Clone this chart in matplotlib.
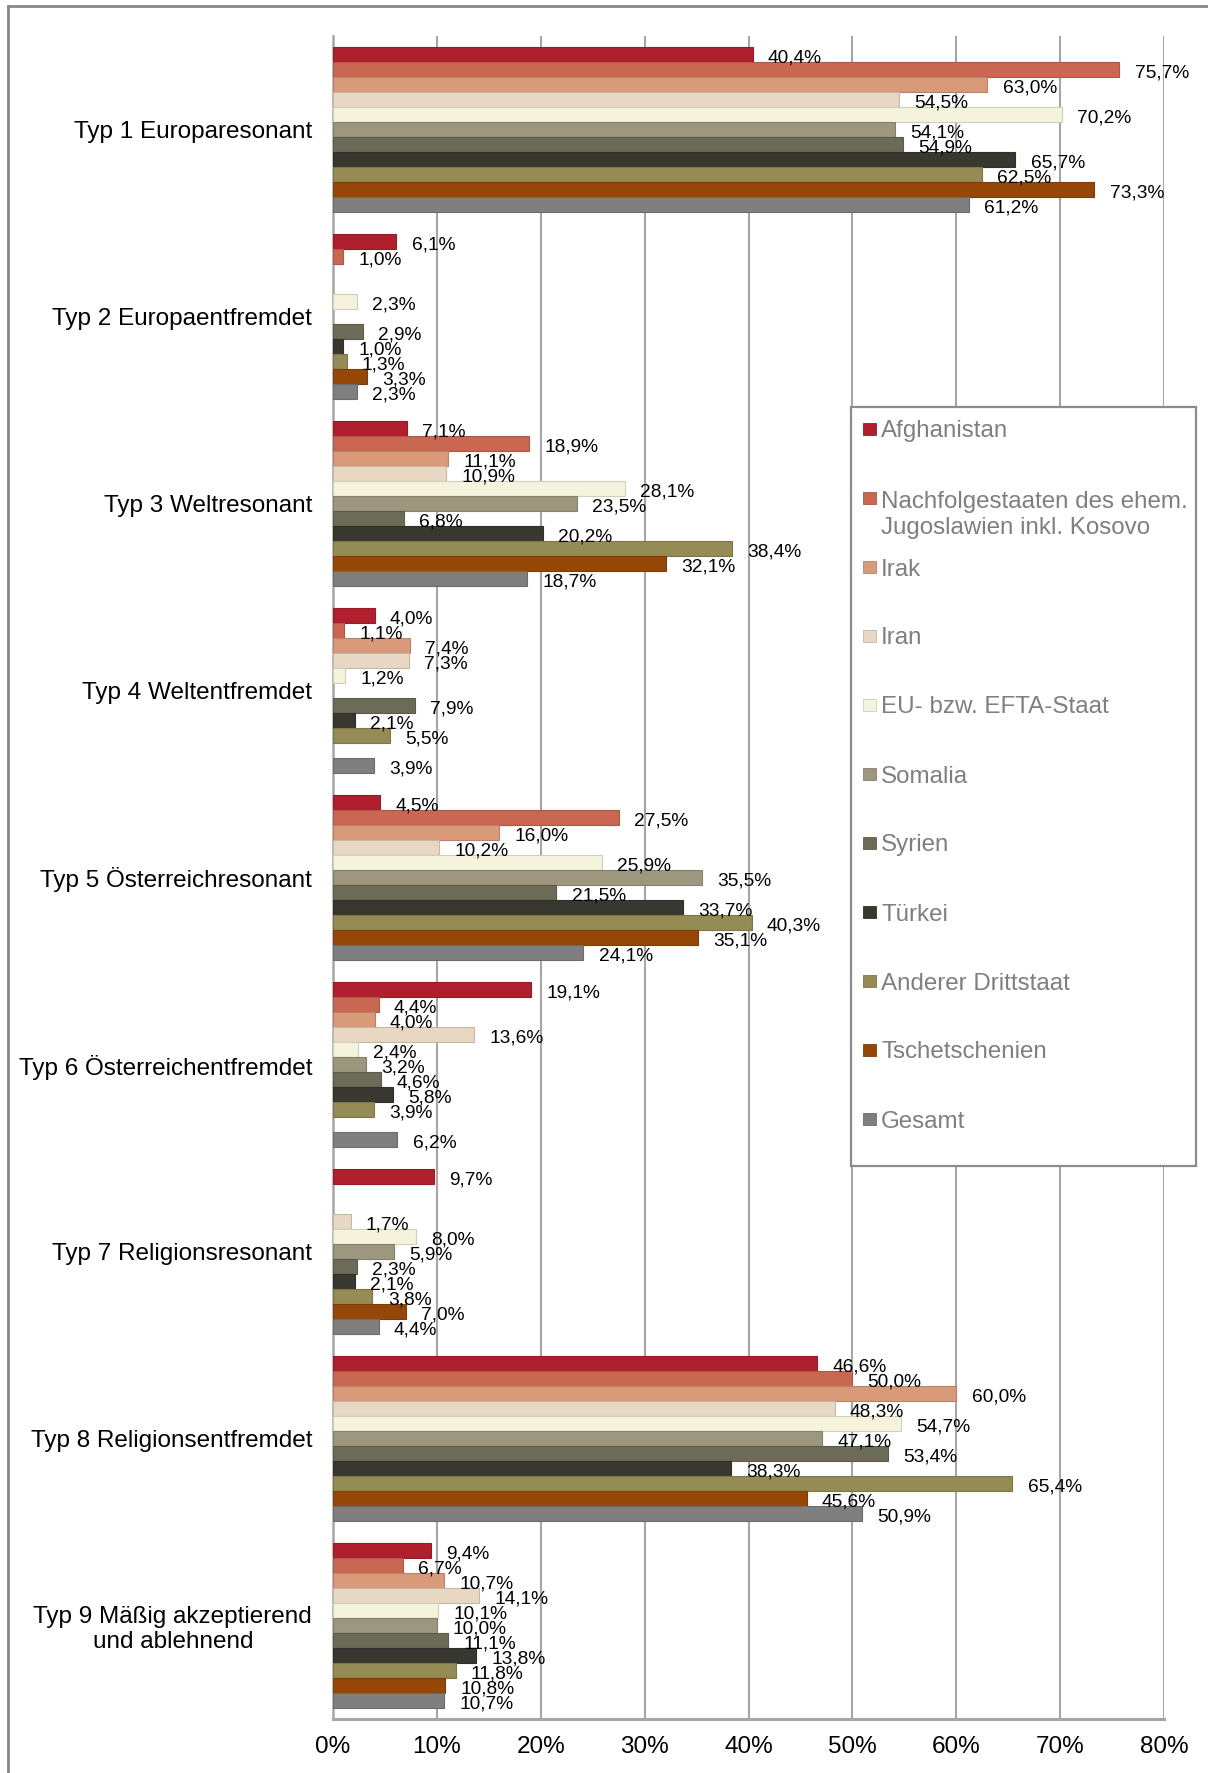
import matplotlib
matplotlib.use("Agg")
import matplotlib.pyplot as plt
import matplotlib.colors as mcolors
import numpy as np
from matplotlib.lines import Line2D
from matplotlib.patches import Rectangle
from matplotlib.ticker import FuncFormatter

plt.rcParams['font.family'] = ['Liberation Sans', 'DejaVu Sans']

nan = np.nan

types = ["Typ 1 Europaresonant", "Typ 2 Europaentfremdet", "Typ 3 Weltresonant",
         "Typ 4 Weltentfremdet", "Typ 5 Österreichresonant", "Typ 6 Österreichentfremdet",
         "Typ 7 Religionsresonant", "Typ 8 Religionsentfremdet",
         "Typ 9 Mäßig akzeptierend\nund ablehnend"]

origins = ["Afghanistan", "Nachfolgestaaten des ehem.\nJugoslawien inkl. Kosovo", "Irak", "Iran",
           "EU- bzw. EFTA-Staat", "Somalia", "Syrien", "Türkei", "Anderer Drittstaat",
           "Tschetschenien", "Gesamt"]

colors = ["#B01F2E", "#C96752", "#D99A79", "#E8D7C2", "#F5F3DC", "#9C977E",
          "#6C6B58", "#393830", "#958B55", "#954707", "#7F7F7F"]

# shares in percent, one list per origin, in the order of `types`
afghanistan = [40.4, 6.1, 7.1, 4.0, 4.5, 19.1, 9.7, 46.6, 9.4]
jugoslawien = [75.7, 1.0, 18.9, 1.1, 27.5, 4.4, nan, 50.0, 6.7]
irak = [63.0, nan, 11.1, 7.4, 16.0, 4.0, nan, 60.0, 10.7]
iran = [54.5, nan, 10.9, 7.3, 10.2, 13.6, 1.7, 48.3, 14.1]
eu_efta = [70.2, 2.3, 28.1, 1.2, 25.9, 2.4, 8.0, 54.7, 10.1]
somalia = [54.1, nan, 23.5, nan, 35.5, 3.2, 5.9, 47.1, 10.0]
syrien = [54.9, 2.9, 6.8, 7.9, 21.5, 4.6, 2.3, 53.4, 11.1]
tuerkei = [65.7, 1.0, 20.2, 2.1, 33.7, 5.8, 2.1, 38.3, 13.8]
drittstaat = [62.5, 1.3, 38.4, 5.5, 40.3, 3.9, 3.8, 65.4, 11.8]
tschetschenien = [73.3, 3.3, 32.1, nan, 35.1, nan, 7.0, 45.6, 10.8]
gesamt = [61.2, 2.3, 18.7, 3.9, 24.1, 6.2, 4.4, 50.9, 10.7]

series = [afghanistan, jugoslawien, irak, iran, eu_efta, somalia, syrien,
          tuerkei, drittstaat, tschetschenien, gesamt]

W, H = 1208, 1773
fig = plt.figure(figsize=(W / 100, H / 100), dpi=100)


def fx(px):
    return px / W


def fy(py):
    return 1 - py / H


ax = fig.add_axes([fx(333), fy(1719), (1164 - 333) / W, (1719 - 36) / H])

grid_col = "#A6A6A6"
y = np.arange(len(types))
n = len(series)
group_h = 0.882
bar_h = group_h / n

for j, (vals, col) in enumerate(zip(series, colors)):
    vals = np.array(vals, dtype=float)
    pos = y - group_h / 2 + (j + 0.5) * bar_h
    ok = ~np.isnan(vals)
    edge = tuple(c * 0.85 for c in mcolors.to_rgb(col))
    ax.barh(pos[ok], vals[ok], height=bar_h, color=col,
            edgecolor=edge, linewidth=0.8, zorder=3)
    for p, v in zip(pos[ok], vals[ok]):
        ax.annotate(f"{v:.1f}".replace(".", ",") + "%", (v, p),
                    xytext=(11, -6), textcoords="offset points",
                    ha="left", va="baseline", fontsize=13.8, color="black",
                    zorder=4)

ax.set_xlim(0, 80)
ax.set_ylim(len(types) - 0.5, -0.5)
ax.set_xticks(np.arange(0, 81, 10))
ax.xaxis.set_major_formatter(FuncFormatter(lambda v, _: f"{v:.0f}%"))
ax.set_yticks(y)
ax.set_yticklabels(types, fontsize=17.5, multialignment="center")
ax.tick_params(axis="x", length=0, pad=12, labelsize=17.5)
ax.tick_params(axis="y", length=0, pad=15)

ax.grid(axis="x", color=grid_col, linewidth=1.5, zorder=0)
ax.set_axisbelow(True)
for side in ["top", "right"]:
    ax.spines[side].set_visible(False)
ax.spines["left"].set_color(grid_col)
ax.spines["left"].set_linewidth(1.8)
ax.spines["bottom"].set_color(grid_col)
ax.spines["bottom"].set_linewidth(2.2)

# outer chart frame (left and top edges)
frame_col = "#878787"
fig.add_artist(Line2D([fx(8), fx(8)], [fy(6), 0], transform=fig.transFigure,
                      color=frame_col, linewidth=2))
fig.add_artist(Line2D([fx(8), 1], [fy(6), fy(6)], transform=fig.transFigure,
                      color=frame_col, linewidth=2))

# legend box with evenly spaced entries
fig.add_artist(Rectangle((fx(851), fy(1166)), (1196 - 851) / W, (1166 - 407) / H,
                         transform=fig.transFigure, facecolor="white",
                         edgecolor="#8C8C8C", linewidth=1.6, zorder=5))
sq = 12.6
line_px = 27.2
for k, (name, col) in enumerate(zip(origins, colors)):
    cy = 429 + k * 69
    edge = tuple(c * 0.85 for c in mcolors.to_rgb(col))
    fig.add_artist(Rectangle((fx(863), fy(cy + sq / 2)), sq / W, sq / H,
                             transform=fig.transFigure, facecolor=col,
                             edgecolor=edge, linewidth=0.6, zorder=6))
    # baseline of the last line, so the first line sits level with the square
    extra = name.count("\n") * line_px
    fig.text(fx(881), fy(cy + 8.5 + extra), name, fontsize=17.4, color="#7F7F7F",
             ha="left", va="baseline", linespacing=1.236, zorder=6)

fig.savefig("out.png", dpi=100)
